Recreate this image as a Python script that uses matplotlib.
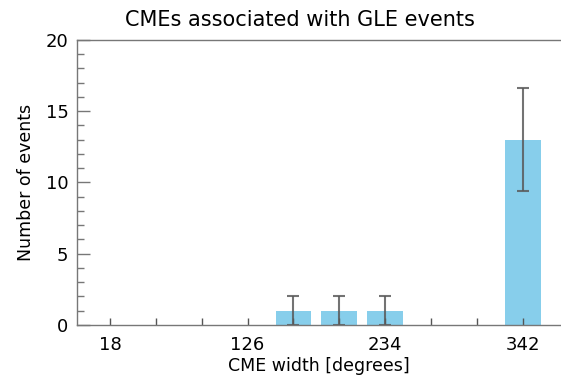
import numpy as np
import matplotlib
matplotlib.use('Agg')
import matplotlib.pyplot as plt

# CME width histogram, 36-degree bins
bin_centers = [18, 54, 90, 126, 162, 198, 234, 270, 306, 342]
counts = [0, 0, 0, 0, 1, 1, 1, 0, 0, 13]
labeled_ticks = [18, 126, 234, 342]

counts = np.array(counts, dtype=float)
centers = np.array(bin_centers, dtype=float)
errors = np.sqrt(counts)

fig = plt.figure(figsize=(5.61, 3.77), dpi=100)
ax = fig.add_axes([0.137, 0.138, 0.863, 0.756])

ax.bar(centers, counts, width=28, color='#87ceeb', zorder=1)
has = counts > 0
ax.errorbar(centers[has], counts[has], yerr=errors[has], fmt='none',
            ecolor='#5a5a5a', elinewidth=1.5, capsize=4.5, capthick=1.5,
            alpha=0.85, zorder=2)

ax.set_xlim(-8, 372)
ax.set_ylim(0, 20)

ax.set_xticks(labeled_ticks)
ax.set_xticks([c for c in bin_centers if c not in labeled_ticks], minor=True)
ax.set_yticks([0, 5, 10, 15, 20])
ax.set_yticks(np.arange(0, 21, 1), minor=True)

gray = '#777777'
for s in ['left', 'bottom', 'top']:
    ax.spines[s].set_color(gray)
    ax.spines[s].set_linewidth(1.0)
ax.spines['right'].set_visible(False)

ax.tick_params(axis='x', which='both', direction='in', length=5, width=1,
               color='#555555', labelsize=13, pad=8)
ax.tick_params(axis='y', which='major', direction='in', length=9, width=1,
               color=gray, labelsize=13, pad=6)
ax.tick_params(axis='y', which='minor', direction='in', length=5, width=1,
               color=gray)

ax.set_title('CMEs associated with GLE events', fontsize=15, pad=10, x=0.46)
ax.set_xlabel('CME width [degrees]', fontsize=12.5, labelpad=2)
ax.set_ylabel('Number of events', fontsize=12.5, labelpad=8)

fig.savefig('out.png', dpi=100)
